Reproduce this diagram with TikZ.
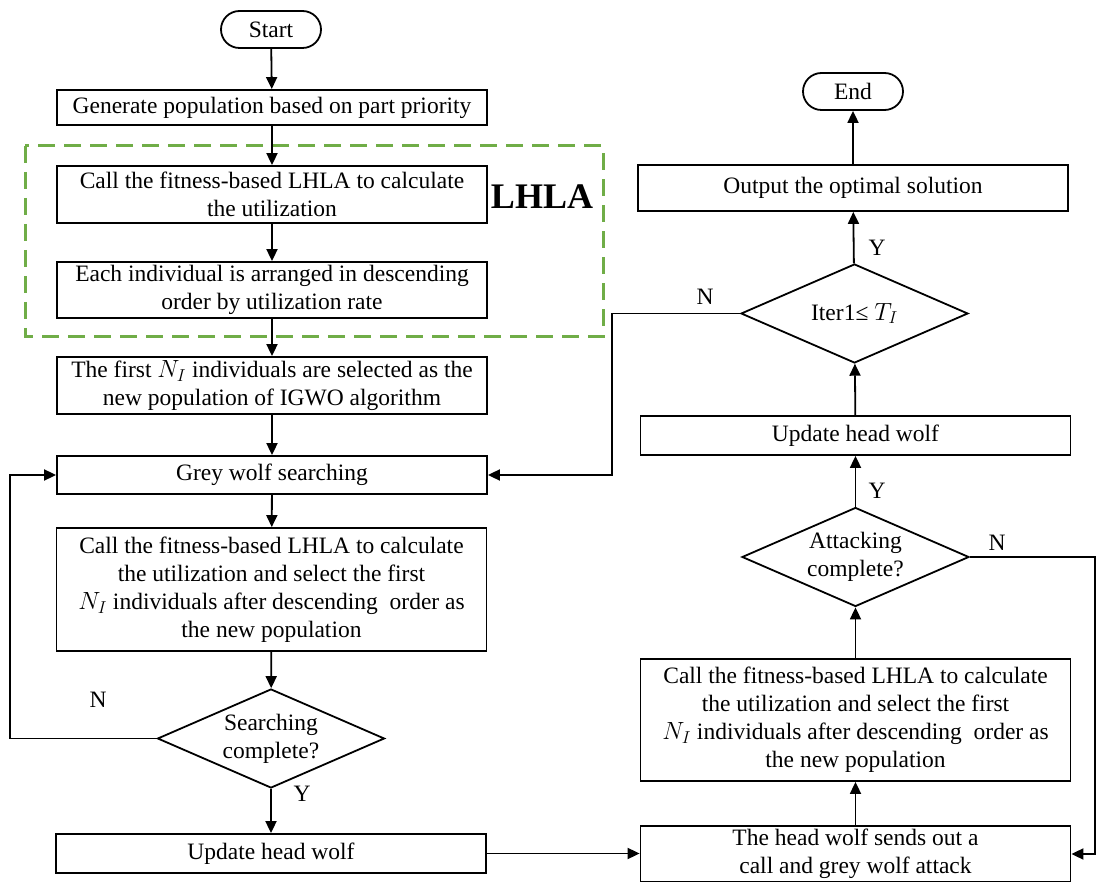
\documentclass[tikz,border=0pt]{standalone}
\usepackage{fontspec}
\setmainfont{Liberation Serif}
\usepackage{tikz}
\usetikzlibrary{shapes.misc,shapes.geometric,arrows.meta}
\definecolor{lhlagreen}{RGB}{112,173,71}
\tikzset{
  flowbox/.style={shape=rectangle,draw=black,line width=1.8pt,minimum width=430pt,align=center,inner sep=0},
  decision/.style={shape=diamond,draw=black,line width=1.8pt,shape aspect=2.3,inner sep=0,minimum width=227pt,minimum height=99pt,align=center},
  terminal/.style={shape=rounded rectangle,draw=black,line width=1.8pt,minimum width=100pt,minimum height=37pt,inner sep=0},
  flowarrow/.style={line width=1.8pt,-{Triangle[length=12pt,width=11pt]}},
  lhlaframe/.style={draw=lhlagreen,line width=3pt,dash pattern=on 17pt off 9pt}
}

\begin{document}
\begin{tikzpicture}[x=1pt,y=-1pt,font=\fontsize{23.5}{28}\selectfont]
      \useasboundingbox (0,0) rectangle (1104,882);
      % left column
      \node[terminal] (start) at (271,29.5) {Start};
      \node[flowbox,minimum height=35pt] (gen) at (272,107.5) {Generate population based on part priority};
      \node[flowbox,minimum height=57pt] (fit) at (272,194.5) {Call the fitness-based LHLA to calculate\\the utilization};
      \node[flowbox,minimum height=56pt] (sort) at (272,290) {Each individual is arranged in descending\\order by utilization rate};
      \node[flowbox,minimum height=57pt] (first) at (272,385.5) {The first $N_I$ individuals are selected as the\\new population of IGWO algorithm};
      \node[flowbox,minimum height=38pt] (grey) at (272,475) {Grey wolf searching};
      \node[flowbox,minimum height=123pt] (callL) at (271.5,589.5) {Call the fitness-based LHLA to calculate\\the utilization and select the first\\$N_I$ individuals after descending\ \ order as\\the new population};
      \node[decision] (search) at (271,738.5) {Searching\\complete?};
      \node[flowbox,minimum height=39pt] (updL) at (271,853.5) {Update head wolf};
      % LHLA frame
      \draw[lhlaframe] (25,146) rectangle (603,337);
      \node[font=\fontsize{36}{40}\selectfont\bfseries] (lhla) at (542,197) {LHLA};
      % right column
      \node[terminal] (stop) at (853,91.5) {End};
      \node[flowbox,minimum height=46pt] (out) at (853,188) {Output the optimal solution};
      \node[decision] (iter) at (854.5,313.5) {Iter1≤ $T_I$};
      \node[flowbox,minimum height=39pt] (updR) at (855.5,435.5) {Update head wolf};
      \node[decision] (attack) at (855.5,557) {Attacking\\complete?};
      \node[flowbox,minimum height=122pt] (callR) at (855.5,720) {Call the fitness-based LHLA to calculate\\the utilization and select the first\\$N_I$ individuals after descending\ \ order as\\the new population};
      \node[flowbox,minimum height=56pt] (head) at (855.5,854) {The head wolf sends out a\\call and grey wolf attack};
      % labels
      \node (nL) at (98,700) {N};
      \node (yL) at (302,794) {Y};
      \node (nIter) at (705,297) {N};
      \node (yIter) at (877,248) {Y};
      \node (yAtt) at (877,491) {Y};
      \node (nAtt) at (997,543) {N};
      \begin{scope}
        \draw[flowarrow] (start) -- (gen);
        \draw[flowarrow] (gen) -- (fit);
        \draw[flowarrow] (fit) -- (sort);
        \draw[flowarrow] (sort) -- (first);
        \draw[flowarrow] (first) -- (grey);
        \draw[flowarrow] (grey) -- (callL);
        \draw[flowarrow] (callL) -- (search);
        \draw[flowarrow] (search) -- (updL);
        \draw[flowarrow] (search.west) -- ++(-147,0) |- (grey.west);
        \draw[flowarrow] (updL.east) -- (updL.east -| head.west);
        \draw[flowarrow] (head) -- (callR);
        \draw[flowarrow] (callR) -- (attack);
        \draw[flowarrow] (attack) -- (updR);
        \draw[flowarrow] (attack.east) -- ++(125,0) |- (head.east);
        \draw[flowarrow] (updR) -- (iter);
        \draw[flowarrow] (iter) -- (out);
        \draw[flowarrow] (iter.west) -- ++(-128,0) |- (grey.east);
        \draw[flowarrow] (out) -- (stop);
      \end{scope}
    \end{tikzpicture}
\end{document}
